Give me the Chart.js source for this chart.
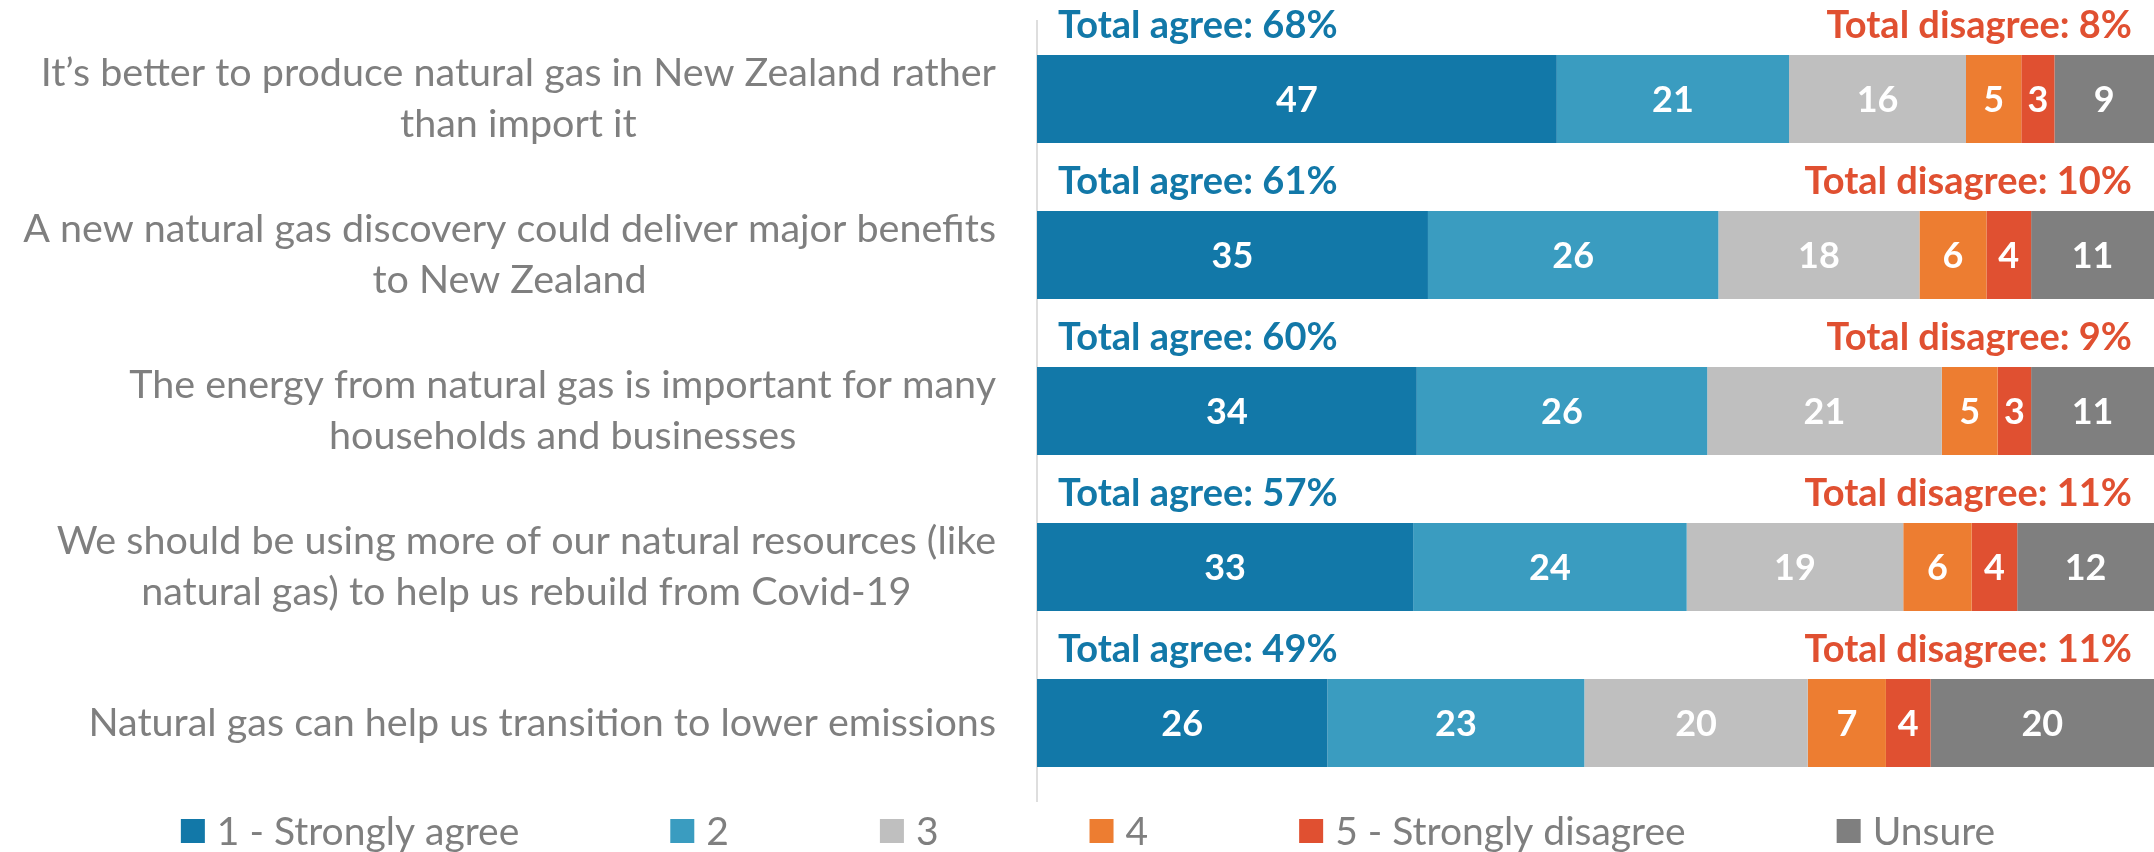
<!DOCTYPE html>
<html>
<head>
<meta charset="utf-8">
<script src="https://cdn.jsdelivr.net/npm/chart.js@4.4.1/dist/chart.umd.min.js"></script>
<style>
  html, body { margin: 0; padding: 0; background: #fff; }
  #wrap { width: 2154px; height: 852px; position: relative; }
</style>
</head>
<body>
<div id="wrap"><canvas id="surveyChart"></canvas></div>
<script>
// statements (one per bar)
const statements = [
    ['It’s better to produce natural gas in New Zealand rather', 'than import it'],
    ['A new natural gas discovery could deliver major benefits', 'to New Zealand'],
    ['The energy from natural gas is important for many', 'households and businesses'],
    ['We should be using more of our natural resources (like', 'natural gas) to help us rebuild from Covid-19'],
    ['Natural gas can help us transition to lower emissions']
];

// response shares (%) per statement
const strongAgree    = [47, 35, 34, 33, 26];
const agree          = [21, 26, 26, 24, 23];
const neutral        = [16, 18, 21, 19, 20];
const disagree       = [5, 6, 5, 6, 7];
const strongDisagree = [3, 4, 3, 4, 4];
const unsure         = [9, 11, 11, 12, 20];

const totalAgree    = [68, 61, 60, 57, 49];
const totalDisagree = [8, 10, 9, 11, 11];

const seriesNames = ['1 - Strongly agree', '2', '3', '4', '5 - Strongly disagree', 'Unsure'];
const seriesValues = [strongAgree, agree, neutral, disagree, strongDisagree, unsure];
const seriesColors = ['#1278A8', '#3A9CC0', '#BFBFBF', '#ED7D31', '#E05031', '#7F7F7F'];

const FONT = 'Lato';
const GREY_TEXT = '#7F7F7F';

// each bar is drawn as 100% of its own row total
const rowTotals = statements.map((_, i) => seriesValues.reduce((s, arr) => s + arr[i], 0));

const datasets = seriesValues.map((vals, k) => ({
    label: seriesNames[k],
    data: vals.map((v, i) => v / rowTotals[i] * 100),
    rawValues: vals,
    backgroundColor: seriesColors[k],
    borderWidth: 0,
    barPercentage: 0.565,
    categoryPercentage: 1
}));

const statementLabels = {
    id: 'statementLabels',
    afterDraw(chart) {
        const ctx = chart.ctx;
        const yScale = chart.scales.y;
        ctx.save();
        ctx.font = `39.5px ${FONT}`;
        ctx.fillStyle = GREY_TEXT;
        ctx.textAlign = 'center';
        ctx.textBaseline = 'middle';
        const lineH = 51;
        const rightEdge = 996;
        statements.forEach((lines, i) => {
            const cy = yScale.getPixelForValue(i);
            const w = Math.max(...lines.map(l => ctx.measureText(l).width));
            const cx = rightEdge - w / 2;
            const y0 = cy - (lines.length - 1) * lineH / 2;
            lines.forEach((l, j) => ctx.fillText(l, cx, y0 + j * lineH));
        });
        ctx.restore();
    }
};

const barValues = {
    id: 'barValues',
    afterDatasetsDraw(chart) {
        const ctx = chart.ctx;
        ctx.save();
        ctx.font = `bold 36px ${FONT}`;
        ctx.fillStyle = '#FFFFFF';
        ctx.textAlign = 'center';
        ctx.textBaseline = 'middle';
        chart.data.datasets.forEach((ds, k) => {
            chart.getDatasetMeta(k).data.forEach((bar, i) => {
                ctx.fillText(String(ds.rawValues[i]), (bar.x + bar.base) / 2, bar.y + 1);
            });
        });

        // total agree / disagree above each bar
        const first = chart.getDatasetMeta(0).data;
        ctx.font = `bold 38px ${FONT}`;
        ctx.textBaseline = 'alphabetic';
        first.forEach((bar, i) => {
            const ty = bar.y - bar.height / 2 - 17;
            ctx.textAlign = 'left';
            ctx.fillStyle = '#1278A8';
            ctx.fillText(`Total agree: ${totalAgree[i]}%`, chart.chartArea.left + 21, ty);
            ctx.textAlign = 'right';
            ctx.fillStyle = '#E05031';
            ctx.fillText(`Total disagree: ${totalDisagree[i]}%`, chart.chartArea.right - 22, ty);
        });
        ctx.restore();
    }
};

const bottomLegend = {
    id: 'bottomLegend',
    afterDraw(chart) {
        const ctx = chart.ctx;
        ctx.save();
        ctx.font = `39px ${FONT}`;
        ctx.textBaseline = 'middle';
        ctx.textAlign = 'left';
        const boxW = 24, boxH = 24, gap = 12, spacing = 151;
        const widths = seriesNames.map(n => boxW + gap + ctx.measureText(n).width);
        const total = widths.reduce((a, b) => a + b, 0) + spacing * (widths.length - 1);
        let x = 1088 - total / 2;
        const cy = 831;
        seriesNames.forEach((n, k) => {
            ctx.fillStyle = seriesColors[k];
            ctx.fillRect(x, cy - boxH / 2, boxW, boxH);
            ctx.fillStyle = GREY_TEXT;
            ctx.fillText(n, x + boxW + gap, cy + 1);
            x += widths[k] + spacing;
        });
        ctx.restore();
    }
};

new Chart(document.getElementById('surveyChart'), {
    type: 'bar',
    data: {
        labels: statements,
        datasets: datasets
    },
    options: {
        indexAxis: 'y',
        responsive: true,
        maintainAspectRatio: false,
        animation: false,
        layout: {
            padding: { left: 1037, right: 0, top: 21, bottom: 51 }
        },
        plugins: {
            legend: { display: false },
            tooltip: { enabled: false }
        },
        scales: {
            x: {
                stacked: true,
                min: 0,
                max: 100,
                display: false
            },
            y: {
                stacked: true,
                ticks: { display: false },
                grid: { display: false },
                border: { display: true, color: '#DEDEDE', width: 2 },
                afterFit(scale) { scale.width = 0; }
            }
        }
    },
    plugins: [statementLabels, barValues, bottomLegend]
});
</script>
</body>
</html>
